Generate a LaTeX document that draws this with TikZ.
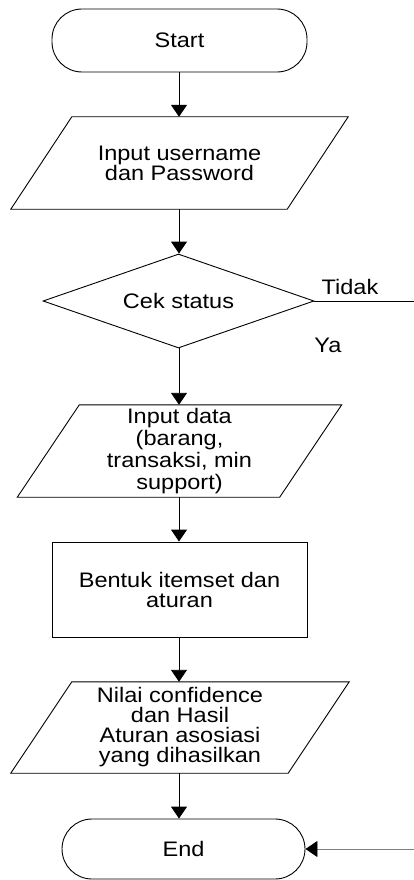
\documentclass[tikz,border=0pt]{standalone}
\usepackage{fontspec}
\setmainfont[FakeStretch=1.12]{Liberation Sans}
\usetikzlibrary{arrows.meta,shapes.geometric,calc}
\begin{document}
\begin{tikzpicture}[x=1pt,y=-1pt,
  every node/.style={font=\fontsize{21pt}{20pt}\selectfont, align=center, inner sep=0pt},
  line/.style={line width=0.9pt, draw=black},
  arr/.style={line, -{Triangle[width=16pt,length=12pt]}},
  term/.style={line, rectangle, rounded corners=30pt},
  proc/.style={line, rectangle},
  box/.style={rectangle}]
\useasboundingbox (0,0) rectangle (414,880);

\node[term, minimum width=255pt, minimum height=63pt] (start) at (179.5,40.5) {Start};

\node[box, minimum width=276pt, minimum height=92pt] (in1) at (179.5,163) {Input username\\dan Password};
\draw[line] ($(in1.north west)+(30.5,0)$) -- ($(in1.north east)+(30.5,0)$) -- ($(in1.south east)+(-30.5,0)$) -- ($(in1.south west)+(-30.5,0)$) -- cycle;

\node[line, diamond, minimum width=271pt, minimum height=94pt, inner sep=0pt, shape aspect=2.88] (cek) at (178.5,301) {};
\node at (178.5,301) {Cek status};

\node[box, minimum width=262pt, minimum height=92pt, font=\fontsize{21pt}{22pt}\selectfont] (in2) at (179.5,451) {Input data\\(barang,\\transaksi, min\\support)};
\draw[line] ($(in2.north west)+(31,0)$) -- ($(in2.north east)+(31,0)$) -- ($(in2.south east)+(-31,0)$) -- ($(in2.south west)+(-31,0)$) -- cycle;

\node[proc, minimum width=255pt, minimum height=95pt] (bentuk) at (179.5,589.5) {Bentuk itemset dan\\aturan};

\node[box, minimum width=277pt, minimum height=91pt] (hasil) at (180,727.5) {Nilai confidence\\dan Hasil\\Aturan asosiasi\\yang dihasilkan};
\draw[line] ($(hasil.north west)+(30.5,0)$) -- ($(hasil.north east)+(30.5,0)$) -- ($(hasil.south east)+(-30.5,0)$) -- ($(hasil.south west)+(-30.5,0)$) -- cycle;

\node[term, minimum width=243pt, minimum height=60pt] (end) at (183.5,849) {End};

\coordinate (tidakend) at (414,301);
\coordinate (yaend) at (414,849);

\draw[arr] (start.south -| 179,0) -- (in1.north -| 179,0);
\draw[arr] (in1.south -| 179,0) -- (cek.north -| 179,0);
\draw[arr] (cek.south -| 179,0) -- (in2.north -| 179,0);
\draw[arr] (in2.south -| 179,0) -- (bentuk.north -| 179,0);
\draw[arr] (bentuk.south -| 179,0) -- (hasil.north -| 179,0);
\draw[arr] (hasil.south -| 179,0) -- (end.north -| 179,0);

\draw[line] (cek.east) -- (tidakend);
\node (tidak) at (350,287) {Tidak};
\node (ya) at (328,345) {Ya};

\draw[line, draw=gray, -{Triangle[width=16pt,length=12pt,color=black]}] (yaend) -- (end.east);
\end{tikzpicture}
\end{document}
